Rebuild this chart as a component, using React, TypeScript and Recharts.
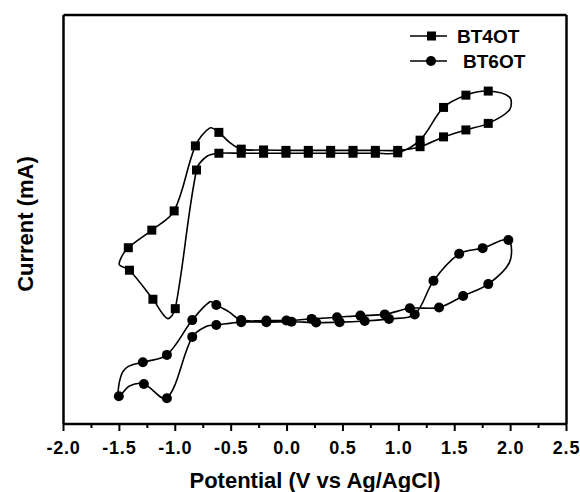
import React from "react";
import { LineChart, Line, XAxis, YAxis } from "recharts";

const SERIES = ["BT4OT", "BT6OT"];

// [potential (V), current (a.u.), marker drawn (1/0)] in scan order
const bt4ot: [number, number, number][] = [
  [0.39, 66.2, 1], [0.59, 66.2, 1], [0.79, 66.2, 1], [0.99, 66.3, 1],
  [1.19, 69.4, 1], [1.4, 77.4, 1], [1.6, 80.4, 1], [1.8, 81.4, 1],
  [1.99, 79.9, 0], [1.99, 76.8, 0],
  [1.8, 73.5, 1], [1.6, 71.9, 1], [1.4, 70.2, 1], [1.19, 67.8, 1],
  [0.99, 66.9, 1], [0.79, 66.9, 1], [0.59, 66.9, 1], [0.39, 66.9, 1],
  [0.19, 66.9, 1], [-0.01, 66.9, 1], [-0.21, 67.0, 1], [-0.41, 67.2, 1],
  [-0.52, 69.0, 0], [-0.61, 71.3, 1], [-0.69, 72.4, 0], [-0.82, 68.0, 1],
  [-1.01, 52.1, 1], [-1.21, 47.4, 1], [-1.42, 43.1, 1],
  [-1.48, 40.9, 0], [-1.5, 38.9, 0],
  [-1.41, 37.6, 1], [-1.2, 30.5, 1], [-1.07, 25.8, 0], [-1.0, 28.2, 1],
  [-0.81, 62.1, 1], [-0.72, 65.4, 0], [-0.61, 66.2, 1],
  [-0.41, 66.2, 1], [-0.21, 66.2, 1], [-0.01, 66.2, 1], [0.19, 66.2, 1],
  [0.39, 66.2, 0],
];

const bt6ot: [number, number, number][] = [
  [0.47, 24.9, 1], [0.695, 25.2, 1], [0.912, 25.7, 1], [1.142, 26.8, 1],
  [1.31, 35.0, 1], [1.54, 41.6, 1], [1.75, 43.0, 1], [1.98, 45.0, 1],
  [1.99, 39.5, 0],
  [1.8, 34.2, 1], [1.575, 31.3, 1], [1.36, 28.5, 1], [1.098, 28.3, 1],
  [0.874, 26.8, 1], [0.656, 26.5, 1], [0.447, 26.1, 1], [0.22, 25.7, 1],
  [-0.006, 25.3, 1], [-0.185, 25.3, 1], [-0.41, 25.4, 1],
  [-0.52, 27.4, 0], [-0.633, 29.1, 1], [-0.69, 29.9, 0], [-0.848, 25.4, 1],
  [-1.075, 16.9, 1], [-1.29, 15.1, 1], [-1.43, 13.9, 0], [-1.49, 11.4, 0],
  [-1.505, 6.8, 1], [-1.41, 9.3, 0], [-1.281, 9.8, 1], [-1.075, 6.3, 1],
  [-0.848, 21.3, 1], [-0.72, 23.9, 0], [-0.633, 24.2, 1],
  [-0.41, 24.9, 1], [-0.185, 24.9, 1], [0.04, 25.0, 1], [0.26, 24.8, 1],
  [0.47, 24.9, 0],
];

const MAJOR_TICKS = [-2, -1.5, -1, -0.5, 0, 0.5, 1, 1.5, 2, 2.5];
const MINOR_TICKS = [-1.75, -1.25, -0.75, -0.25, 0.25, 0.75, 1.25, 1.75, 2.25];
const ALL_TICKS = [...MAJOR_TICKS, ...MINOR_TICKS].sort((a, b) => a - b);

const W = 580;
const H = 492;
const FONT = '"Liberation Sans", Arial, Helvetica, sans-serif';
const frame = { stroke: "#000", strokeWidth: 2.5 };

const toPoints = (rows: [number, number, number][]) =>
  rows.map(([v, i, m]) => ({ v, i, m }));

// smooth curve through the points, tangents scaled by chord length (no big overshoot)
function loopCurve(context: any) {
  let pts: number[][] = [];
  return {
    areaStart() {},
    areaEnd() {},
    lineStart() {
      pts = [];
    },
    point(x: number, y: number) {
      pts.push([+x, +y]);
    },
    lineEnd() {
      const n = pts.length;
      if (!n) return;
      const closed =
        n > 2 && Math.abs(pts[0][0] - pts[n - 1][0]) < 0.01 && Math.abs(pts[0][1] - pts[n - 1][1]) < 0.01;
      const at = (k: number) => {
        if (k < 0) return closed ? pts[n - 2] : pts[0];
        if (k >= n) return closed ? pts[1] : pts[n - 1];
        return pts[k];
      };
      const dist = (a: number[], b: number[]) => Math.hypot(a[0] - b[0], a[1] - b[1]) || 1e-6;
      context.moveTo(pts[0][0], pts[0][1]);
      for (let k = 0; k < n - 1; k++) {
        const p0 = at(k - 1), p1 = at(k), p2 = at(k + 1), p3 = at(k + 2);
        const d01 = dist(p0, p1), d12 = dist(p1, p2), d23 = dist(p2, p3);
        const t1 = [(p2[0] - p0[0]) / (d01 + d12), (p2[1] - p0[1]) / (d01 + d12)];
        const t2 = [(p3[0] - p1[0]) / (d12 + d23), (p3[1] - p1[1]) / (d12 + d23)];
        const s = d12 / 3;
        context.bezierCurveTo(
          p1[0] + t1[0] * s, p1[1] + t1[1] * s,
          p2[0] - t2[0] * s, p2[1] - t2[1] * s,
          p2[0], p2[1]
        );
      }
    },
  };
}

const renderXTick = (props: any) => {
  const { x, y, payload } = props;
  const major = MAJOR_TICKS.includes(payload.value);
  return (
    <g>
      <line x1={x} x2={x} y1={y} y2={y + (major ? 7 : 4)} stroke="#000" strokeWidth={2} />
      {major && (
        <text
          x={x}
          y={y + 30}
          textAnchor="middle"
          fontFamily={FONT}
          fontWeight="bold"
          fontSize={18}
          letterSpacing={0.8}
          fill="#000"
        >
          {payload.value.toFixed(1)}
        </text>
      )}
    </g>
  );
};

const squareDot = (p: any) =>
  p.payload.m ? (
    <rect key={`s${p.index}`} x={p.cx - 4.5} y={p.cy - 4.5} width={9} height={9} fill="#000" />
  ) : (
    <g key={`s${p.index}`} />
  );

const circleDot = (p: any) =>
  p.payload.m ? (
    <circle key={`c${p.index}`} cx={p.cx} cy={p.cy} r={5} fill="#000" />
  ) : (
    <g key={`c${p.index}`} />
  );

export default function App() {
  return (
    <div style={{ position: "absolute", left: 0, top: 0, width: W, height: H, background: "#fff" }}>
      <LineChart width={W} height={H} margin={{ top: 14, right: 12.5, bottom: 0, left: 62.5 }}>
        <XAxis
          dataKey="v"
          type="number"
          domain={[-2, 2.5]}
          ticks={ALL_TICKS}
          interval={0}
          tick={renderXTick}
          tickLine={false}
          tickSize={0}
          tickMargin={0}
          axisLine={frame}
          height={68}
          allowDataOverflow
          label={{
            value: "Potential (V vs Ag/AgCl)",
            position: "insideBottom",
            offset: 4,
            fill: "#000",
            fontSize: 22,
            fontWeight: "bold",
            fontFamily: FONT,
          }}
        />
        <XAxis
          xAxisId="top"
          orientation="top"
          type="number"
          domain={[-2, 2.5]}
          height={1}
          tick={false}
          tickLine={false}
          axisLine={frame}
        />
        <YAxis
          type="number"
          domain={[0, 100]}
          width={1}
          tick={false}
          tickLine={false}
          axisLine={frame}
          allowDataOverflow
        />
        <YAxis
          yAxisId="right"
          orientation="right"
          type="number"
          domain={[0, 100]}
          width={1}
          tick={false}
          tickLine={false}
          axisLine={frame}
        />
        <Line
          data={toPoints(bt4ot)}
          dataKey="i"
          name={SERIES[0]}
          type={loopCurve as any}
          stroke="#000"
          strokeWidth={1.6}
          dot={squareDot}
          activeDot={false}
          isAnimationActive={false}
        />
        <Line
          data={toPoints(bt6ot)}
          dataKey="i"
          name={SERIES[1]}
          type={loopCurve as any}
          stroke="#000"
          strokeWidth={1.6}
          dot={circleDot}
          activeDot={false}
          isAnimationActive={false}
        />
      </LineChart>
      <svg
        width={W}
        height={H}
        style={{ position: "absolute", left: 0, top: 0, pointerEvents: "none" }}
      >
        <text
          x={33}
          y={224}
          transform="rotate(-90, 33, 224)"
          textAnchor="middle"
          fontFamily={FONT}
          fontWeight="bold"
          fontSize={22}
          fill="#000"
        >
          Current (mA)
        </text>
        {SERIES.map((name, k) => {
          const y = 36 + k * 25;
          return (
            <g key={name}>
              <line x1={410} x2={447} y1={y} y2={y} stroke="#000" strokeWidth={1.6} />
              {k === 0 ? (
                <rect x={427} y={y - 4.5} width={9} height={9} fill="#000" />
              ) : (
                <circle cx={431} cy={y} r={5} fill="#000" />
              )}
              <text
                x={457 + k * 6}
                y={y + 7}
                fontFamily={FONT}
                fontWeight="bold"
                fontSize={19}
                fill="#000"
              >
                {name}
              </text>
            </g>
          );
        })}
      </svg>
    </div>
  );
}
